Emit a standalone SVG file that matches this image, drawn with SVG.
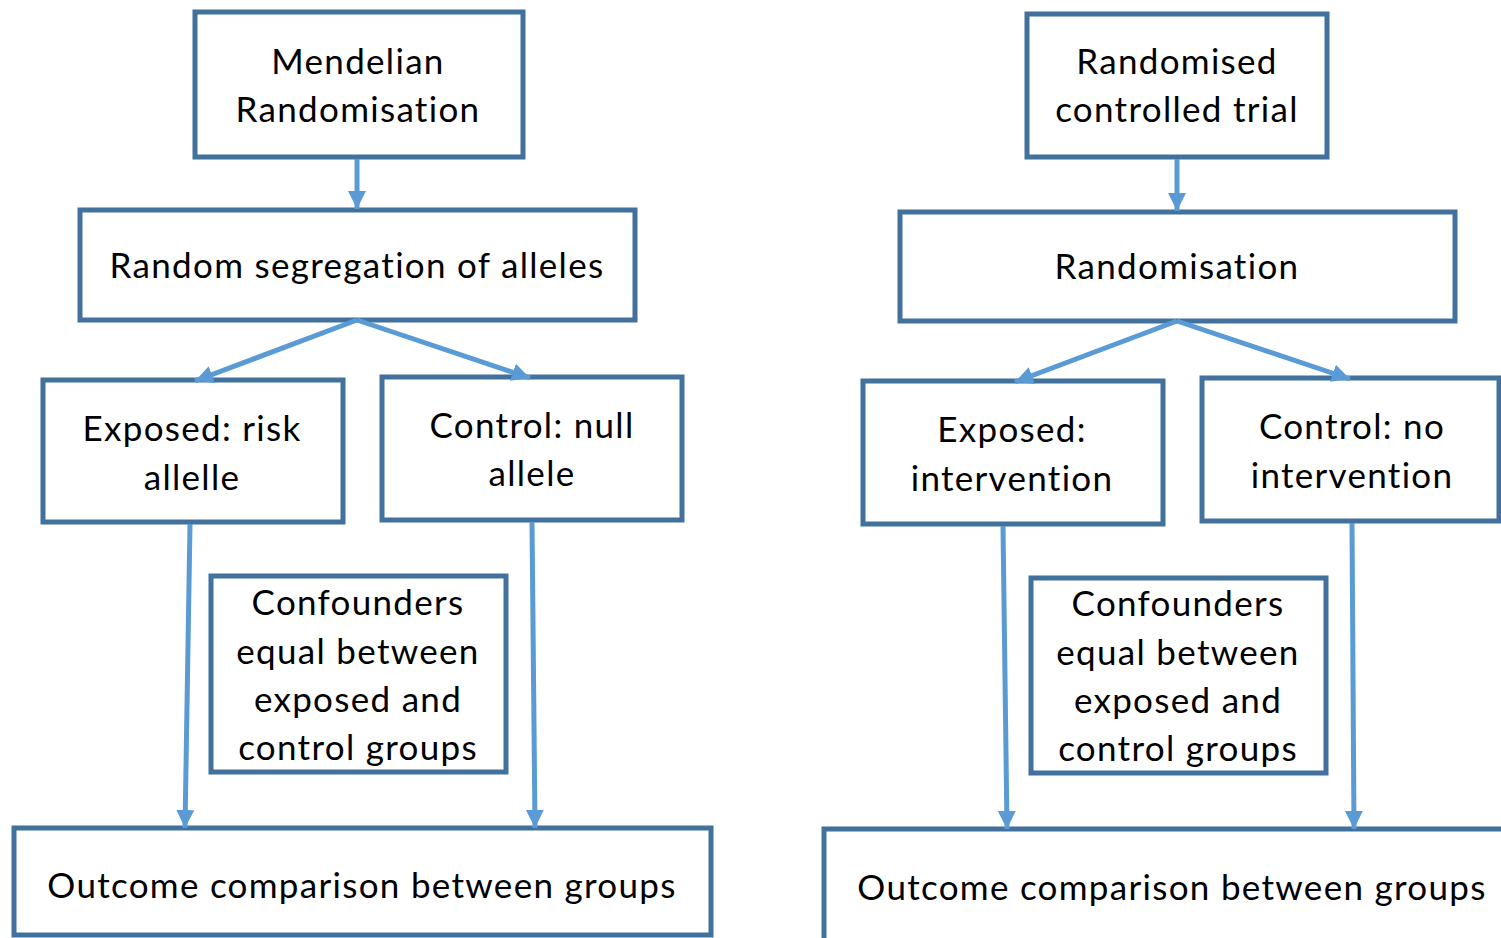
<svg xmlns="http://www.w3.org/2000/svg" width="1501" height="938" viewBox="0 0 1501 938">
<style>
.box{fill:#fff;stroke:#41719C;stroke-width:5}
.t{font-family:Lato,"Open Sans","Liberation Sans",sans-serif;font-size:35px;font-weight:400;letter-spacing:1.3px;fill:#000;text-anchor:middle}
.c{stroke:#5B9BD5;stroke-width:5;fill:none;marker-end:url(#ah)}
</style>
<defs>
<marker id="ah" viewBox="0 0 10 10" refX="10" refY="5" markerWidth="3.6" markerHeight="3.8" orient="auto" markerUnits="strokeWidth">
<path d="M0,0 L10,5 L0,10 z" fill="#5B9BD5"/>
</marker>
</defs>
<rect width="1501" height="938" fill="#fff"/>
<g id="n-mr"><rect class="box" x="195" y="12" width="328" height="145"/><text class="t" x="358" y="74">Mendelian</text><text class="t" x="358" y="122">Randomisation</text></g>
<g id="n-seg"><rect class="box" x="80" y="210" width="555" height="110"/><text class="t" x="357" y="278">Random segregation of alleles</text></g>
<g id="n-exp-l"><rect class="box" x="43" y="380" width="300" height="142"/><text class="t" x="192" y="441">Exposed: risk</text><text class="t" x="192" y="490">allelle</text></g>
<g id="n-ctl-l"><rect class="box" x="382" y="377" width="300" height="143"/><text class="t" x="532" y="438">Control: null</text><text class="t" x="532" y="486">allele</text></g>
<g id="n-conf-l"><rect class="box" x="211" y="576" width="295" height="196"/><text class="t" x="358" y="615">Confounders</text><text class="t" x="358" y="664">equal between</text><text class="t" x="358" y="712">exposed and</text><text class="t" x="358" y="760">control groups</text></g>
<g id="n-out-l"><rect class="box" x="14" y="828" width="697" height="107"/><text class="t" x="362" y="898">Outcome comparison between groups</text></g>
<g id="n-rct"><rect class="box" x="1027" y="14" width="300" height="143"/><text class="t" x="1177" y="74">Randomised</text><text class="t" x="1177" y="122">controlled trial</text></g>
<g id="n-rand"><rect class="box" x="900" y="212" width="555" height="109"/><text class="t" x="1177" y="279">Randomisation</text></g>
<g id="n-exp-r"><rect class="box" x="863" y="381" width="300" height="143"/><text class="t" x="1012" y="442">Exposed:</text><text class="t" x="1012" y="491">intervention</text></g>
<g id="n-ctl-r"><rect class="box" x="1202" y="378" width="297" height="143"/><text class="t" x="1352" y="439">Control: no</text><text class="t" x="1352" y="488">intervention</text></g>
<g id="n-conf-r"><rect class="box" x="1031" y="578" width="295" height="195"/><text class="t" x="1178" y="616">Confounders</text><text class="t" x="1178" y="665">equal between</text><text class="t" x="1178" y="713">exposed and</text><text class="t" x="1178" y="761">control groups</text></g>
<g id="n-out-r"><rect class="box" x="824" y="829" width="700" height="130"/><text class="t" x="1172" y="900">Outcome comparison between groups</text></g>
<g id="connectors">
<line class="c" x1="357" y1="159" x2="357" y2="209"/>
<line class="c" x1="357" y1="320" x2="195" y2="381"/>
<line class="c" x1="357" y1="320" x2="530" y2="378"/>
<line class="c" x1="190" y1="524" x2="185" y2="828"/>
<line class="c" x1="532" y1="522" x2="535" y2="828"/>
<line class="c" x1="1177" y1="159" x2="1177" y2="211"/>
<line class="c" x1="1177" y1="321" x2="1015" y2="382"/>
<line class="c" x1="1177" y1="321" x2="1350" y2="379"/>
<line class="c" x1="1003" y1="526" x2="1007" y2="829"/>
<line class="c" x1="1352" y1="523" x2="1354" y2="829"/>
</g>
</svg>
